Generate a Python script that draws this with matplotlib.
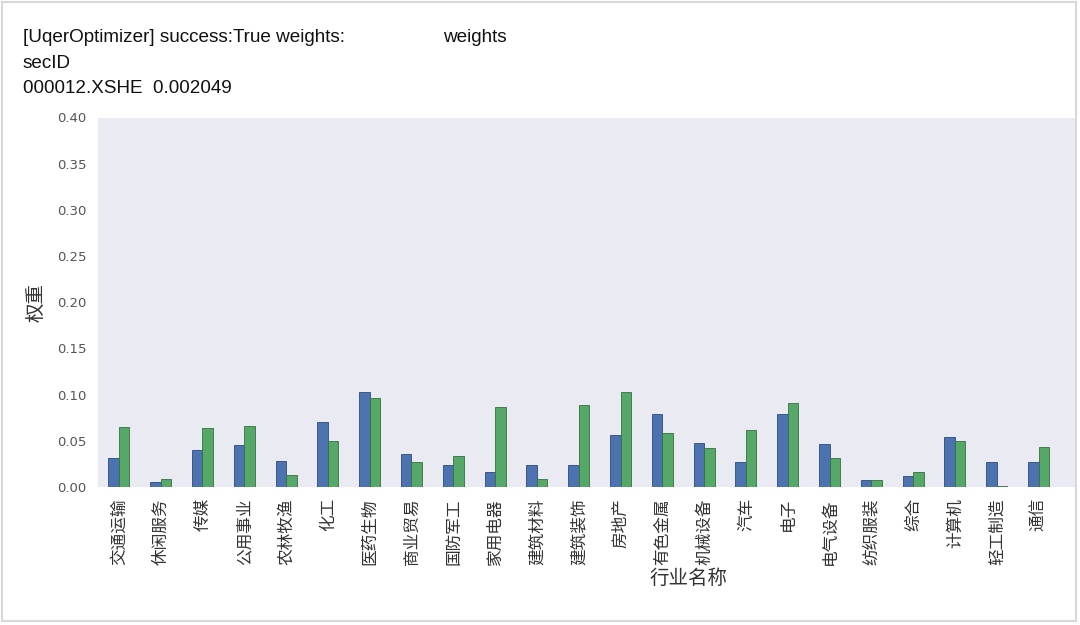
import numpy as np
import matplotlib.pyplot as plt
from matplotlib.patches import Rectangle

plt.rcParams['font.family'] = ['DejaVu Sans', 'Noto Sans CJK SC']
plt.rcParams['axes.unicode_minus'] = False

# 行业与两组权重
industries = ['交通运输', '休闲服务', '传媒', '公用事业', '农林牧渔', '化工', '医药生物',
              '商业贸易', '国防军工', '家用电器', '建筑材料', '建筑装饰', '房地产', '有色金属',
              '机械设备', '汽车', '电子', '电气设备', '纺织服装', '综合', '计算机', '轻工制造', '通信']
weights_blue = [0.0313, 0.0057, 0.0400, 0.0450, 0.0285, 0.0708, 0.1032,
                0.0352, 0.0242, 0.0157, 0.0242, 0.0242, 0.0566, 0.0793,
                0.0480, 0.0270, 0.0793, 0.0470, 0.0071, 0.0114, 0.0537, 0.0270, 0.0270]
weights_green = [0.0650, 0.0085, 0.0637, 0.0665, 0.0128, 0.0498, 0.0960,
                 0.0270, 0.0338, 0.0864, 0.0085, 0.0893, 0.1032, 0.0580,
                 0.0424, 0.0622, 0.0907, 0.0313, 0.0071, 0.0157, 0.0498, 0.0014, 0.0438]
yticks = [0.00, 0.05, 0.10, 0.15, 0.20, 0.25, 0.30, 0.35, 0.40]

fig = plt.figure(figsize=(10.8, 6.25), dpi=100)
ax = fig.add_axes([0.0907, 0.2208, 0.9046, 0.5912])
ax.set_facecolor('#EAEAF2')

x = np.arange(len(industries))
w = 0.25
ax.bar(x - w/2, weights_blue, w, color='#4C72B0', edgecolor='#2E4A7A', linewidth=0.6)
ax.bar(x + w/2, weights_green, w, color='#55A868', edgecolor='#35703F', linewidth=0.6)

ax.set_xlim(-0.5, 22.87)
ax.set_ylim(0, 0.40)
ax.set_yticks(yticks)
ax.set_yticklabels([f'{v:.2f}' for v in yticks], fontsize=9.5, color='#555555')
ax.set_xticks(x)
ax.set_xticklabels(industries, rotation=90, fontsize=12, color='#333333')
ax.tick_params(length=0, pad=8)
for s in ax.spines.values():
    s.set_visible(False)

ax.set_ylabel('权重', fontsize=14, color='#333333', labelpad=8)
ax.set_xlabel('行业名称', fontsize=14, color='#333333')
ax.xaxis.set_label_coords((689 - 98) / 977, -0.222)

# 顶部输出文字
tf = dict(fontsize=13.6, family=['Liberation Sans', 'DejaVu Sans'], color='#111111', va='baseline')
fig.text(22.7/1080, 1 - 42/625, '[UqerOptimizer] success:True weights:', **tf)
fig.text(442.7/1080, 1 - 42/625, 'weights', **tf)
fig.text(22.7/1080, 1 - 68/625, 'secID', **tf)
fig.text(22.7/1080, 1 - 93/625, '000012.XSHE  0.002049', **tf)

# 截图边框
fig.patches.append(Rectangle((2/1080, 4/625), 1074/1080, 619/625, transform=fig.transFigure,
                             fill=False, edgecolor='#D8D8D8', linewidth=1.5))

fig.savefig('out.png', dpi=100)
